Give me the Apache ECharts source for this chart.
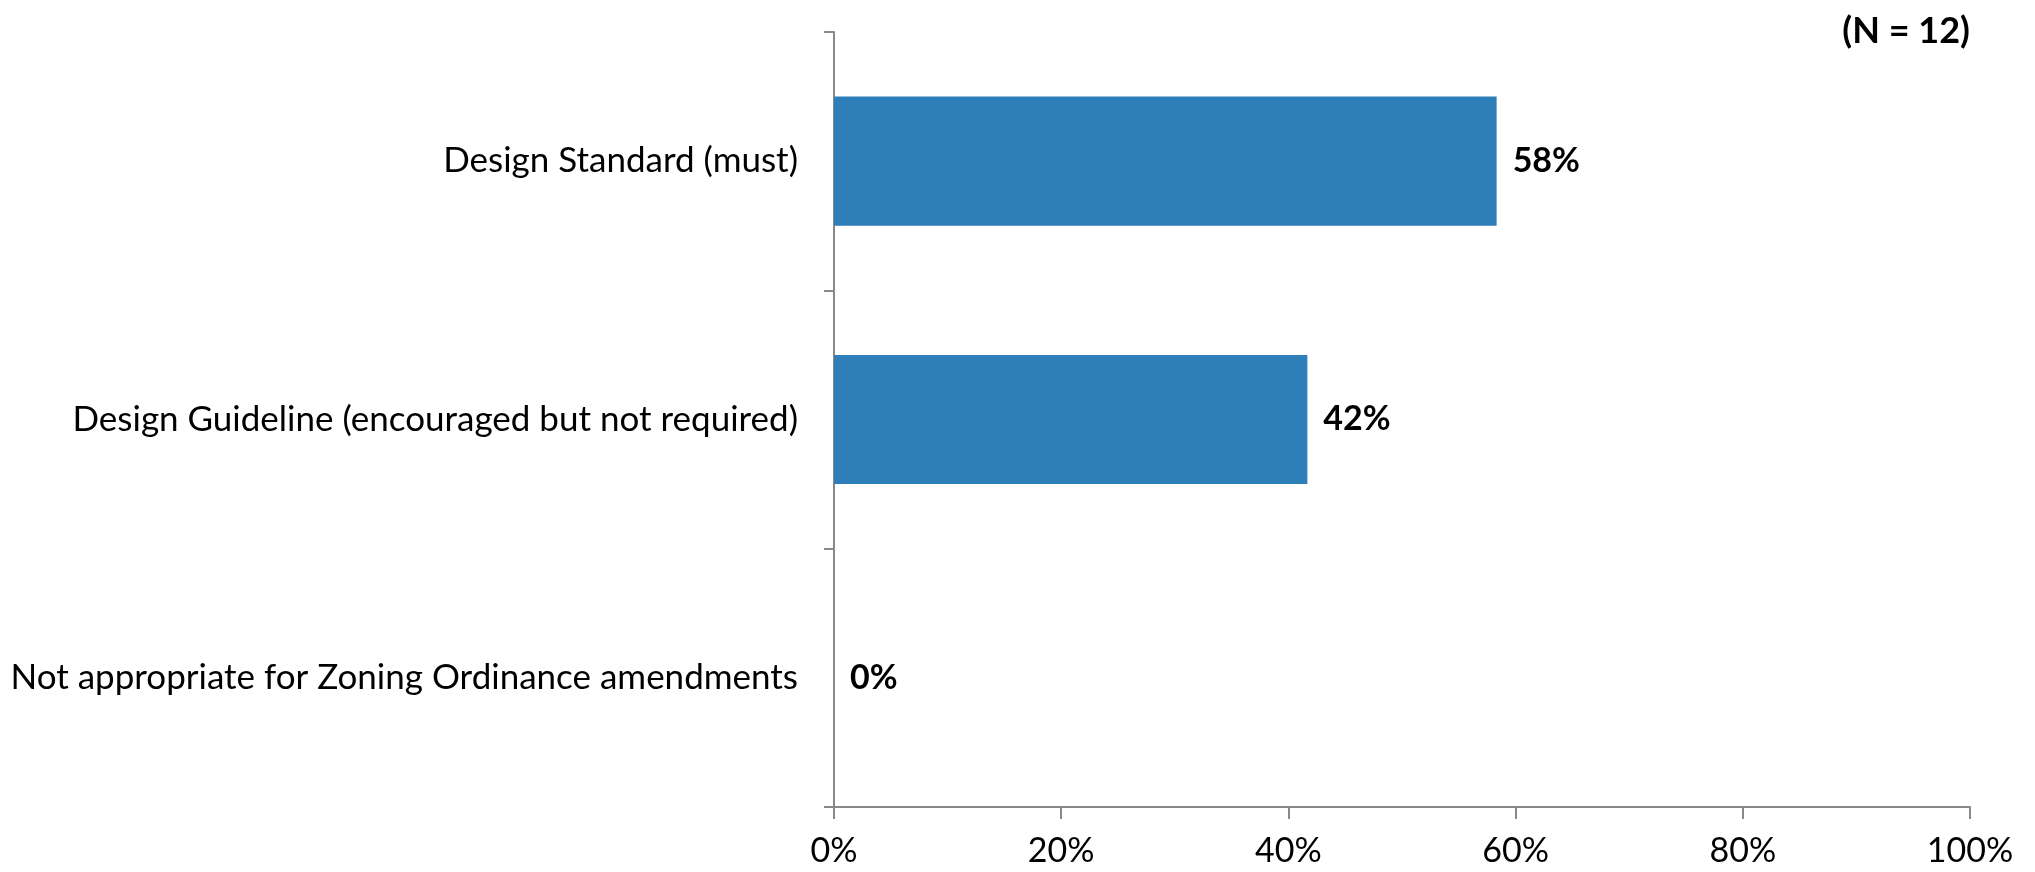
<!DOCTYPE html>
<html>
<head>
<meta charset="utf-8">
<script src="https://cdn.jsdelivr.net/npm/echarts@6/dist/echarts.min.js"></script>
<style>
html,body{margin:0;padding:0;background:#fff;}
#chart{width:2035px;height:872px;}
</style>
</head>
<body>
<div id="chart"></div>
<script>
const categories = [
  'Design Standard (must)',
  'Design Guideline (encouraged but not required)',
  'Not appropriate for Zoning Ordinance amendments'
];
const values = [58.33, 41.67, 0];
const valueLabels = ['58%', '42%', '0%'];
const tickValues = [0, 20, 40, 60, 80, 100];
const sampleSize = '(N = 12)';

const FONT = 'Lato';
const chart = echarts.init(document.getElementById('chart'), null, {renderer: 'canvas'});
chart.setOption({
  backgroundColor: '#ffffff',
  animation: false,
  title: {
    text: sampleSize,
    right: 60,
    top: 8,
    textStyle: {fontFamily: FONT, fontSize: 36, fontWeight: 'bold', color: '#000'}
  },
  grid: {left: 834, right: 65, top: 32, bottom: 65, containLabel: false},
  xAxis: {
    type: 'value',
    min: 0,
    max: 100,
    interval: 20,
    axisLine: {show: true, lineStyle: {color: '#898989', width: 2}},
    axisTick: {show: true, length: 12, lineStyle: {color: '#898989', width: 2}},
    splitLine: {show: false},
    axisLabel: {
      margin: 27,
      fontFamily: FONT, fontSize: 34, color: '#000',
      formatter: v => tickValues.includes(v) ? v + '%' : ''
    }
  },
  yAxis: {
    type: 'category',
    inverse: true,
    data: categories,
    axisLine: {show: true, lineStyle: {color: '#898989', width: 2}},
    axisTick: {show: true, length: 10, alignWithLabel: false, lineStyle: {color: '#898989', width: 2}},
    axisLabel: {margin: 36, fontFamily: FONT, fontSize: 35, color: '#000'}
  },
  series: [{
    type: 'bar',
    data: values,
    barCategoryGap: '50%',
    itemStyle: {color: '#2E7EB9'},
    label: {
      show: true,
      position: 'right',
      distance: 16,
      fontFamily: FONT, fontSize: 34, fontWeight: 'bold', color: '#000',
      formatter: p => valueLabels[p.dataIndex]
    }
  }]
});
</script>
</body>
</html>
